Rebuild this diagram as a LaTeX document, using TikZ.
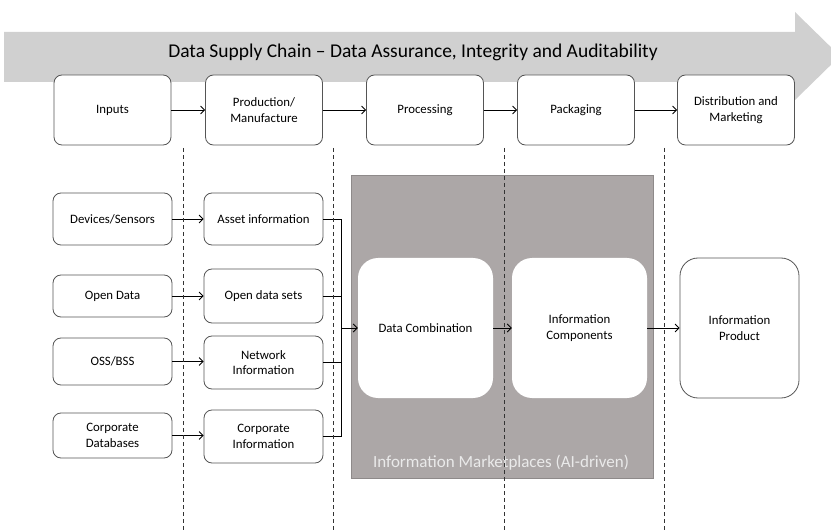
\documentclass[tikz,border=0pt]{standalone}
\usepackage{fontspec}
\setmainfont{Carlito}
\usetikzlibrary{arrows.meta}
\definecolor{bandgray}{HTML}{D0D0D0}
\definecolor{mktgray}{HTML}{ACA7A7}
\definecolor{mktedge}{HTML}{8E8A8A}
\definecolor{boxedge}{HTML}{555555}
\definecolor{lbltext}{HTML}{EAEAEA}
\begin{document}
\begin{tikzpicture}[x=1pt,y=-1pt,
  stage/.style={draw=boxedge,line width=0.8pt,rounded corners=8pt,fill=white,align=center,
    font=\fontsize{12.8}{15.5}\selectfont,inner sep=0pt,minimum width=117pt,minimum height=70pt},
  srcbox/.style={draw=boxedge,line width=0.8pt,rounded corners=8pt,fill=white,align=center,
    font=\fontsize{12.8}{15.5}\selectfont,inner sep=0pt,minimum width=119pt},
  bigbox/.style={fill=white,rounded corners=20pt,align=center,
    font=\fontsize{12.8}{15.5}\selectfont,inner sep=0pt,minimum width=135pt,minimum height=140pt},
  prodbox/.style={draw=boxedge,line width=0.8pt,fill=white,rounded corners=18pt,align=center,
    font=\fontsize{12.8}{15.5}\selectfont,inner sep=0pt,minimum width=119pt,minimum height=140pt},
  arr/.style={draw=black,line width=0.8pt,-{Straight Barb[length=4pt,width=8pt]}},
  conn/.style={draw=black,line width=0.8pt},
  divider/.style={draw=black!80,line width=0.8pt,dash pattern=on 4pt off 3pt}
]
\useasboundingbox (0,0) rectangle (831,532);

% big background arrow
\fill[bandgray] (4,32) -- (795,32) -- (795,12) -- (840,56) -- (795,100) -- (795,82) -- (4,82) -- cycle;
\node[font=\fontsize{19.5}{22}\selectfont] (title) at (413,52) {Data Supply Chain – Data Assurance, Integrity and Auditability};

% stage boxes
\node[stage] (inputs) at (112.5,110) {Inputs};
\node[stage] (prod) at (264,110) {Production/\\Manufacture};
\node[stage] (proc) at (425,110) {Processing};
\node[stage] (pack) at (576,110) {Packaging};
\node[stage] (dist) at (736,110) {Distribution and\\Marketing};
\draw[arr] (inputs) -- (prod);
\draw[arr] (prod) -- (proc);
\draw[arr] (proc) -- (pack);
\draw[arr] (pack) -- (dist);

% sources
\node[srcbox,minimum height=52pt] (dev) at (112.5,219) {Devices/Sensors};
\node[srcbox,minimum height=42pt] (open) at (112.5,296) {Open Data};
\node[srcbox,minimum height=47pt] (oss) at (112.5,361.5) {OSS/BSS};
\node[srcbox,minimum height=45pt] (cdb) at (112.5,435.5) {Corporate\\Databases};

\node[srcbox,minimum height=52pt] (asset) at (263.5,219) {Asset information};
\node[srcbox,minimum height=54pt] (osets) at (263.5,296) {Open data sets};
\node[srcbox,minimum height=53pt] (net) at (263.5,362.5) {Network\\Information};
\node[srcbox,minimum height=53pt] (cinfo) at (263.5,436.5) {Corporate\\Information};

\draw[arr] (dev.east) -- (dev.east -| asset.west);
\draw[arr] (open.east) -- (open.east -| osets.west);
\draw[arr] (oss.east) -- (oss.east -| net.west);
\draw[arr] (cdb.east) -- (cdb.east -| cinfo.west);

% marketplace
\node[fill=mktgray,draw=mktedge,line width=0.6pt,minimum width=302pt,minimum height=303pt,inner sep=0pt] (mkt) at (502,326.5) {};
\node[bigbox] (dc) at (425.5,328) {Data Combination};
\node[bigbox] (ic) at (579.5,328) {Information\\Components};
\node[prodbox] (ip) at (739.5,328) {Information\\Product};
\node[text=lbltext,font=\fontsize{17}{19}\selectfont] (mktlbl) at (501,463) {Information Marketplaces (AI-driven)};

% bus
\coordinate (bus) at (341,328);
\draw[conn] (asset.east) -- (asset.east -| bus) -- (cinfo.east -| bus) -- (cinfo.east);
\draw[conn] (osets.east) -- (osets.east -| bus);
\draw[conn] (net.east) -- (net.east -| bus);
\draw[arr] (bus) -- (dc.west);
\draw[arr] (dc) -- (ic);
\draw[arr] (ic) -- (ip);

% dividers
\coordinate (d1t) at (183,148); \coordinate (d1b) at (183,532);
\coordinate (d2t) at (333,148); \coordinate (d2b) at (333,532);
\coordinate (d3t) at (504,148); \coordinate (d3b) at (504,532);
\coordinate (d4t) at (664,148); \coordinate (d4b) at (664,532);
\draw[divider] (d1t) -- (d1b);
\draw[divider] (d2t) -- (d2b);
\draw[divider] (d3t) -- (d3b);
\draw[divider] (d4t) -- (d4b);
\end{tikzpicture}
\end{document}
